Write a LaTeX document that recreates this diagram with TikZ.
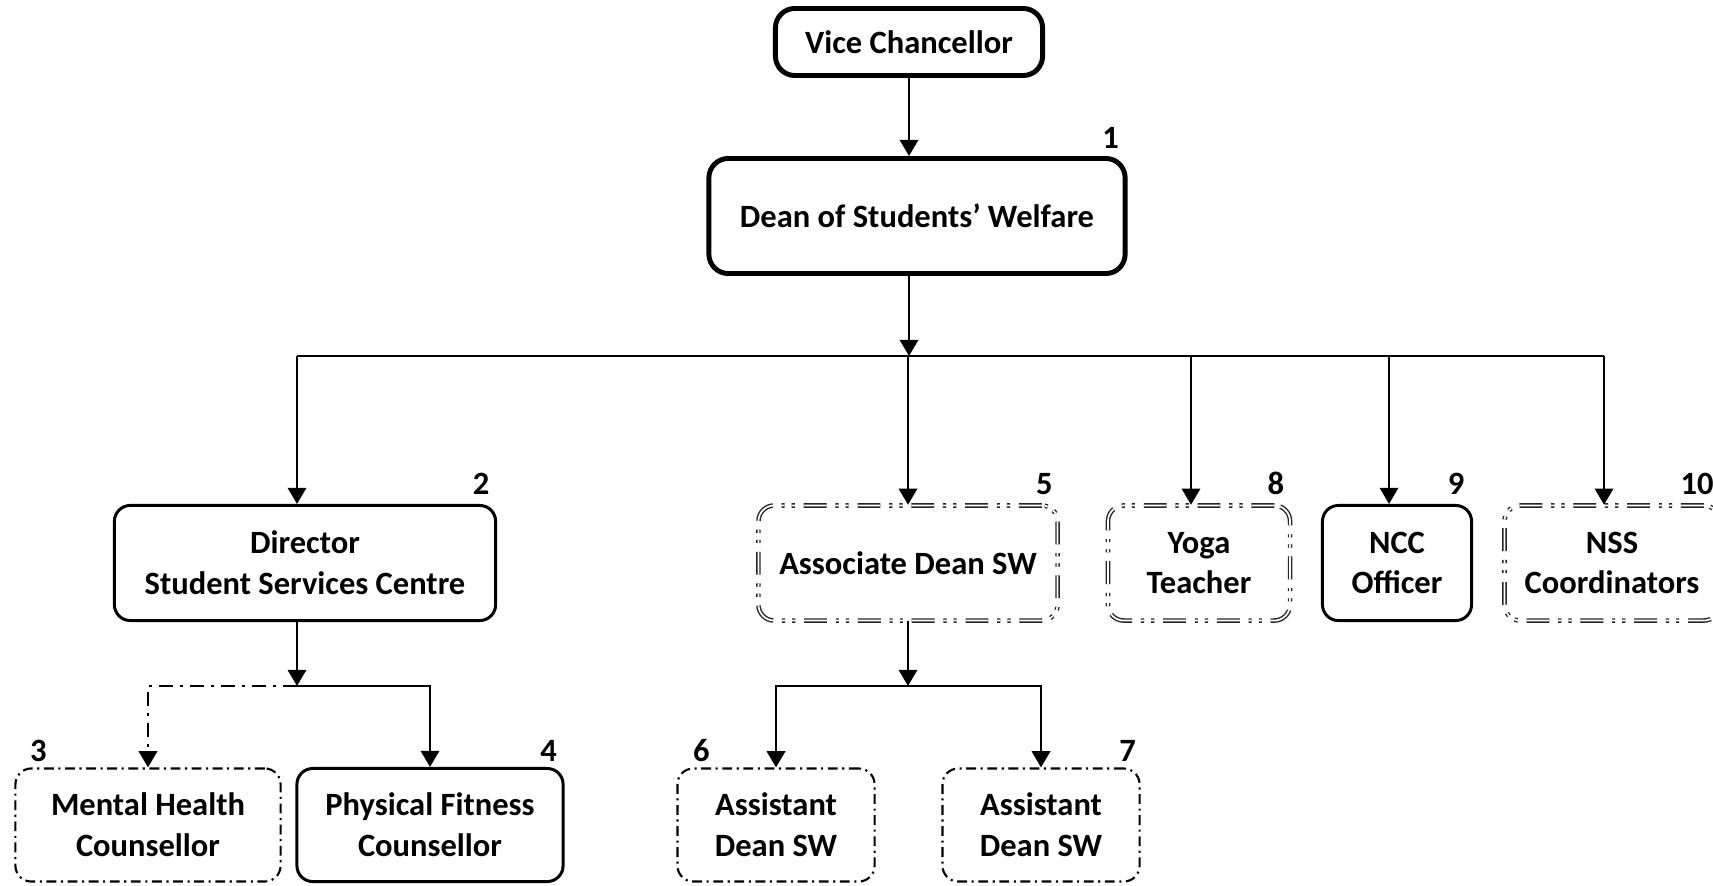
\documentclass[tikz,border=0pt]{standalone}
\usepackage{fontspec}
\setmainfont{Carlito}
\usepackage{tikz}
\usetikzlibrary{arrows.meta, positioning, calc}

\newcommand{\lblfont}{\bfseries\fontsize{9.25}{11.6}\selectfont}

\tikzset{
    box/.style={draw, rounded corners=4.5pt, line width=0.85pt, align=center, font=\lblfont, inner sep=2pt},
    topbox/.style={box, line width=1.4pt, rounded corners=5.5pt},
    dashbox/.style={box, line width=0.6pt, dash pattern=on 2.8pt off 1.3pt on 0.6pt off 1.3pt},
    dblbox/.style={box, draw=black!85, line width=0.4pt, double=white, double distance=0.5pt,
        dash pattern=on 6.5pt off 2.5pt on 0.9pt off 2pt on 0.9pt off 2.5pt},
    num/.style={font=\lblfont, inner sep=0pt},
    link/.style={line width=0.75pt, -{Triangle[length=4.6pt,width=5.2pt]}},
    dashlink/.style={link, dash pattern=on 4pt off 2pt on 0.8pt off 2pt}
}

\begin{document}
\begin{tikzpicture}[x=0.01cm, y=-0.01cm]
    \useasboundingbox (0,0) rectangle (1713,885);
    \clip (0,0) rectangle (1713,885);

    % Top of the chart
    \node[topbox, minimum width=2.67cm, minimum height=0.67cm] (vc) at (909,42) {Vice Chancellor};
    \node[topbox, minimum width=4.16cm, minimum height=1.15cm] (dean) at (917,216) {Dean of Students’ Welfare};

    % Second level
    \node[box, minimum width=3.81cm, minimum height=1.15cm] (dir) at (305,563) {Director\\Student Services Centre};
    \node[dblbox, minimum width=2.99cm, minimum height=1.15cm] (adsw) at (908,563) {Associate Dean SW};
    \node[dblbox, minimum width=1.82cm, minimum height=1.15cm] (yoga) at (1199,563) {Yoga\\Teacher};
    \node[box, minimum width=1.49cm, minimum height=1.15cm] (ncc) at (1397,563) {NCC\\Officer};
    \node[dblbox, minimum width=2.15cm, minimum height=1.15cm] (nss) at (1612,563) {NSS\\Coordinators};

    % Third level
    \node[dashbox, minimum width=2.65cm, minimum height=1.13cm] (mh) at (148,825) {Mental Health\\Counsellor};
    \node[box, minimum width=2.66cm, minimum height=1.13cm] (pf) at (430,825) {Physical Fitness\\Counsellor};
    \node[dashbox, minimum width=1.97cm, minimum height=1.13cm] (ad6) at (776,825) {Assistant\\Dean SW};
    \node[dashbox, minimum width=1.97cm, minimum height=1.13cm] (ad7) at (1041,825) {Assistant\\Dean SW};

    % Numbers
    \node[num, anchor=south east] (n1) at ([shift={(-8,-7)}]dean.north east) {1};
    \node[num, anchor=south east] (n2) at ([shift={(-7,-9)}]dir.north east) {2};
    \node[num, anchor=south west] (n3) at ([shift={(15,-5)}]mh.north west) {3};
    \node[num, anchor=south east] (n4) at ([shift={(-7,-5)}]pf.north east) {4};
    \node[num, anchor=south east] (n5) at ([shift={(-5,-9)}]adsw.north east) {5};
    \node[num, anchor=south west] (n6) at ([shift={(16,-5)}]ad6.north west) {6};
    \node[num, anchor=south east] (n7) at ([shift={(-4,-5)}]ad7.north east) {7};
    \node[num, anchor=south east] (n8) at ([shift={(-6,-9)}]yoga.north east) {8};
    \node[num, anchor=south east] (n9) at ([shift={(-8,-9)}]ncc.north east) {9};
    \node[num, anchor=south east] (n10) at ([shift={(-6,-9)}]nss.north east) {10};

    % Connectors
    \coordinate (busmid) at (909,356);
    \coordinate (dirtop) at ([xshift=-0.08cm]dir.north);
    \coordinate (dirbot) at ([xshift=-0.08cm]dir.south);
    \coordinate (dirsplit) at (dirbot |- 0,686);
    \coordinate (adsplit) at (adsw.south |- 0,686);

    \draw[link] (vc.south) -- (vc.south |- dean.north);
    \draw[link] (vc.south |- dean.south) -- (busmid);
    \draw[line width=0.75pt] (dirtop |- busmid) -- ([xshift=-0.08cm]nss.north |- busmid);
    \foreach \n/\dx in {dir/-0.08cm, adsw/0cm, yoga/-0.08cm, ncc/-0.08cm, nss/-0.08cm}
        \draw[link] ([xshift=\dx]\n.north |- busmid) -- ([xshift=\dx]\n.north);

    \draw[link] (dirbot) -- (dirsplit);
    \draw[dashlink] (dirsplit) -| (mh.north);
    \draw[link] (dirsplit) -| (pf.north);

    \draw[link] (adsw.south) -- (adsplit);
    \draw[link] (adsplit) -| (ad6.north);
    \draw[link] (adsplit) -| (ad7.north);

\end{tikzpicture}
\end{document}
